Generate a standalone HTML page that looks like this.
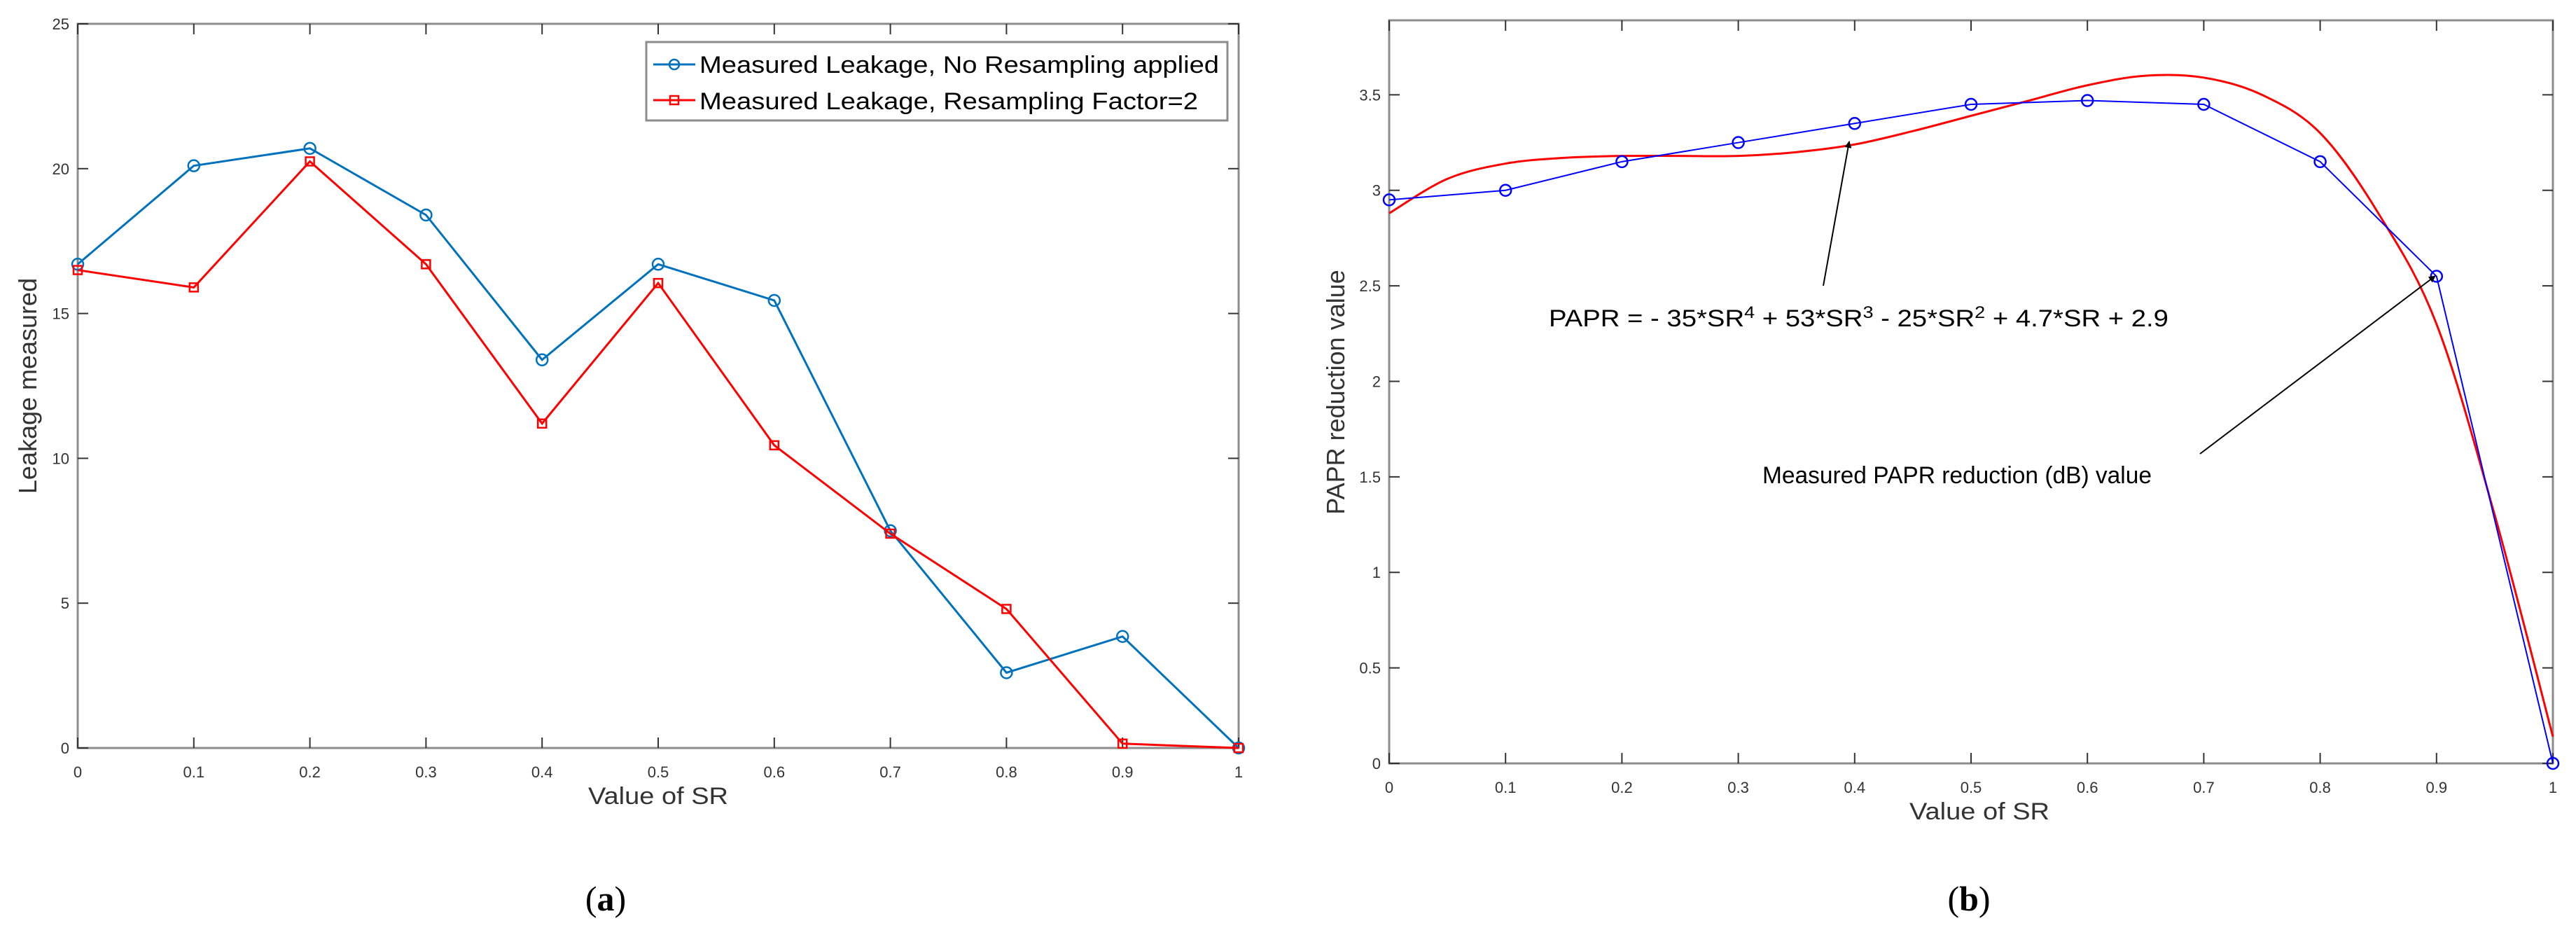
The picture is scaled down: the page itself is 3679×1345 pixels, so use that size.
<!DOCTYPE html>
<html><head><meta charset="utf-8"><style>
html,body{margin:0;padding:0;background:#fff;}
svg{display:block;font-family:"Liberation Sans",sans-serif;}
</style></head><body>
<svg id="fig" width="3679" height="1345" viewBox="0 0 3679 1345" xmlns="http://www.w3.org/2000/svg">
<g id="chartA"></g>
<g id="chartB"></g>
<text x="865" y="1300" font-family="Liberation Serif,serif" font-size="50" text-anchor="middle">(<tspan font-weight="bold">a</tspan>)</text>
<text x="2812" y="1300" font-family="Liberation Serif,serif" font-size="50" text-anchor="middle">(<tspan font-weight="bold">b</tspan>)</text>
</svg>
<script>
const xTicks = [0,0.1,0.2,0.3,0.4,0.5,0.6,0.7,0.8,0.9,1];
const xTickLabels = ["0","0.1","0.2","0.3","0.4","0.5","0.6","0.7","0.8","0.9","1"];
const srValues = [0,0.1,0.2,0.3,0.4,0.5,0.6,0.7,0.8,0.9,1];
const leakNoResample = [16.7,20.1,20.7,18.4,13.4,16.7,15.45,7.5,2.6,3.85,0];
const leakResample2 = [16.5,15.9,20.25,16.7,11.2,16.05,10.45,7.4,4.8,0.15,0];
const aYTicks = [0,5,10,15,20,25];
const aYTickLabels = ["0","5","10","15","20","25"];
const paprMeasured = [2.95,3.0,3.15,3.25,3.35,3.45,3.47,3.45,3.15,2.55,0];
const fitX = [0,0.05,0.1,0.15,0.2,0.25,0.3,0.35,0.4,0.45,0.5,0.55,0.6,0.65,0.7,0.75,0.8,0.85,0.9,0.95,1];
const fitY = [2.88,3.06,3.14,3.17,3.18,3.18,3.18,3.2,3.24,3.31,3.39,3.47,3.55,3.6,3.59,3.5,3.3,2.88,2.3,1.3,0.14];
const bYTicks = [0,0.5,1,1.5,2,2.5,3,3.5];
const bYTickLabels = ["0","0.5","1","1.5","2","2.5","3","3.5"];

const NS="http://www.w3.org/2000/svg";
function mk(parent,tag,attrs,txt){const e=document.createElementNS(NS,tag);for(const k in attrs)e.setAttribute(k,attrs[k]);if(txt!==undefined)e.textContent=txt;parent.appendChild(e);return e;}

function axes(g,L,R,T,B,ymax,yt,ytl,tickFont,axisColor){
  const sx=v=>L+(R-L)*v, sy=v=>B-(B-T)*v/ymax;
  let e=mk(g,'rect',{x:L,y:T,width:R-L,height:B-T,fill:'none',stroke:axisColor,'stroke-width':3});
  
  xTicks.forEach((v,i)=>{
    const x=sx(v);
    mk(g,'line',{x1:x,y1:B,x2:x,y2:B-15,stroke:'#333','stroke-width':2});
    mk(g,'line',{x1:x,y1:T,x2:x,y2:T+15,stroke:'#333','stroke-width':2});
    const t=mk(g,'text',{x:x,y:B+42,'font-size':tickFont,'text-anchor':'middle',fill:'#333'},xTickLabels[i]);
    
  });
  yt.forEach((v,i)=>{
    const y=sy(v);
    mk(g,'line',{x1:L,y1:y,x2:L+15,y2:y,stroke:'#333','stroke-width':2});
    mk(g,'line',{x1:R,y1:y,x2:R-15,y2:y,stroke:'#333','stroke-width':2});
    const t=mk(g,'text',{x:L-12,y:y+8,'font-size':tickFont,'text-anchor':'end',fill:'#333'},ytl[i]);
    
  });
  return {sx,sy};
}
function series(g,sx,sy,xs,ys,color,marker,name,w){
  const pts=xs.map((x,i)=>sx(x)+','+sy(ys[i])).join(' ');
  const pl=mk(g,'polyline',{points:pts,fill:'none',stroke:color,'stroke-width':w});
  
  xs.forEach((x,i)=>{
    let m;
    if(marker==='o') m=mk(g,'circle',{cx:sx(x),cy:sy(ys[i]),r:8,fill:'none',stroke:color,'stroke-width':2.5});
    else if(marker==='s') m=mk(g,'rect',{x:sx(x)-6,y:sy(ys[i])-6,width:12,height:12,fill:'none',stroke:color,'stroke-width':2.5});
    if(m){}
  });
}
function smooth(g,sx,sy,xs,ys,color,name,w){
  const P=xs.map((x,i)=>[sx(x),sy(ys[i])]);
  let d='M'+P[0][0]+','+P[0][1];
  for(let i=0;i<P.length-1;i++){
    const p0=P[Math.max(0,i-1)],p1=P[i],p2=P[i+1],p3=P[Math.min(P.length-1,i+2)];
    const c1=[p1[0]+(p2[0]-p0[0])/6,p1[1]+(p2[1]-p0[1])/6];
    const c2=[p2[0]-(p3[0]-p1[0])/6,p2[1]-(p3[1]-p1[1])/6];
    d+=' C'+c1.join(',')+' '+c2.join(',')+' '+p2.join(',');
  }
  const p=mk(g,'path',{d:d,fill:'none',stroke:color,'stroke-width':w});
  
}

// Chart A
const gA=document.getElementById('chartA');
const A=axes(gA,111,1769,34,1068,25,aYTicks,aYTickLabels,22,'#8c8c8c');
series(gA,A.sx,A.sy,srValues,leakNoResample,'#0072BD','o','no-resampling',3);
series(gA,A.sx,A.sy,srValues,leakResample2,'#FF0000','s','resampling-factor-2',3);
let t=mk(gA,'text',{x:940,y:1148,'font-size':34,'text-anchor':'middle',fill:'#333',textLength:200,lengthAdjust:'spacingAndGlyphs'},'Value of SR');

t=mk(gA,'text',{x:0,y:0,'font-size':36,'text-anchor':'middle',fill:'#333',transform:'translate(52,551) rotate(-90)'},'Leakage measured');

const lg=mk(gA,'g',{});

mk(lg,'rect',{x:923,y:60,width:830,height:112,fill:'#fff',stroke:'#8c8c8c','stroke-width':3});
mk(lg,'line',{x1:933,y1:92,x2:993,y2:92,stroke:'#0072BD','stroke-width':3});
mk(lg,'circle',{cx:963,cy:92,r:7,fill:'none',stroke:'#0072BD','stroke-width':2.5});
t=mk(lg,'text',{x:999,y:104,'font-size':34,fill:'#000',textLength:742,lengthAdjust:'spacingAndGlyphs'},'Measured Leakage, No Resampling applied');

mk(lg,'line',{x1:933,y1:143,x2:993,y2:143,stroke:'#FF0000','stroke-width':3});
mk(lg,'rect',{x:957,y:137,width:12,height:12,fill:'none',stroke:'#FF0000','stroke-width':2.5});
t=mk(lg,'text',{x:999,y:156,'font-size':34,fill:'#000',textLength:712,lengthAdjust:'spacingAndGlyphs'},'Measured Leakage, Resampling Factor=2');


// Chart B
const gB=document.getElementById('chartB');
const B=axes(gB,1984,3646,29,1090,3.89,bYTicks,bYTickLabels,22,'#8c8c8c');
smooth(gB,B.sx,B.sy,fitX,fitY,'#FF0000','polynomial-fit',3);
series(gB,B.sx,B.sy,srValues,paprMeasured,'#0000FF','o','measured-papr',2);
t=mk(gB,'text',{x:2827,y:1170,'font-size':34,'text-anchor':'middle',fill:'#333',textLength:200,lengthAdjust:'spacingAndGlyphs'},'Value of SR');

t=mk(gB,'text',{x:0,y:0,'font-size':36,'text-anchor':'middle',fill:'#333',transform:'translate(1920,560) rotate(-90)'},'PAPR reduction value');

mk(gB,'defs',{}).innerHTML='<marker id="ah" markerWidth="10" markerHeight="10" refX="9" refY="5" orient="auto" markerUnits="userSpaceOnUse" viewBox="0 0 10 10"><path d="M0,0 L10,5 L0,10 z" fill="#000"/></marker>';
let a=mk(gB,'line',{x1:2604,y1:408,x2:2641,y2:202,stroke:'#000','stroke-width':2,'marker-end':'url(#ah)'});

a=mk(gB,'line',{x1:3142,y1:648,x2:3478,y2:394,stroke:'#000','stroke-width':2,'marker-end':'url(#ah)'});

t=mk(gB,'text',{x:2212,y:466,'font-size':34,fill:'#000',textLength:885,lengthAdjust:'spacingAndGlyphs'});
t.innerHTML='PAPR = - 35*SR<tspan dy="-12" font-size="24">4</tspan><tspan dy="12"> + 53*SR</tspan><tspan dy="-12" font-size="24">3</tspan><tspan dy="12"> - 25*SR</tspan><tspan dy="-12" font-size="24">2</tspan><tspan dy="12"> + 4.7*SR + 2.9</tspan>';

t=mk(gB,'text',{x:2517,y:690,'font-size':34,fill:'#000',textLength:556,lengthAdjust:'spacingAndGlyphs'},'Measured PAPR reduction (dB) value');

</script>
</body></html>
